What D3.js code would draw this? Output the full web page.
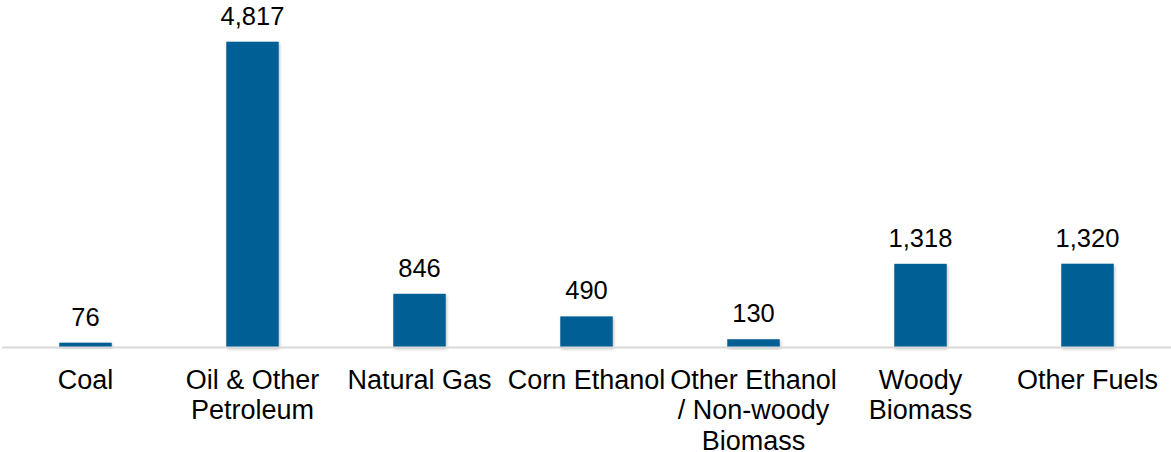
<!DOCTYPE html>
<html>
<head>
<meta charset="utf-8">
<script src="https://cdn.jsdelivr.net/npm/d3@7"></script>
<style>
  html, body { margin: 0; padding: 0; background: #ffffff; }
  svg { display: block; }
  text { font-family: "Liberation Sans", Arial, sans-serif; fill: #000; }
</style>
</head>
<body>
<svg id="chart" width="1171" height="452"></svg>
<script>
const categories = ["Coal", "Oil & Other\nPetroleum", "Natural Gas", "Corn Ethanol", "Other Ethanol\n/ Non-woody\nBiomass", "Woody\nBiomass", "Other Fuels"];
const values = [76, 4817, 846, 490, 130, 1318, 1320];
const valueLabels = ["76", "4,817", "846", "490", "130", "1,318", "1,320"];

const svg = d3.select("#chart");
const baseY = 347.5;
const x = d3.scaleBand().domain(categories).range([2, 1171]).paddingInner(0.686).paddingOuter(0.343);
const y = d3.scaleLinear().domain([0, 5000]).range([baseY, baseY - 5000 * 0.06348]);

const defs = svg.append("defs");
const f = defs.append("filter").attr("id", "sh").attr("x", "-20%").attr("y", "-20%").attr("width", "140%").attr("height", "140%");
f.append("feDropShadow").attr("dx", 1).attr("dy", 1.5).attr("stdDeviation", 1.5).attr("flood-color", "#000").attr("flood-opacity", 0.25);

// bars
svg.append("g").selectAll("rect").data(values).join("rect")
  .attr("x", (d, i) => x(categories[i]))
  .attr("y", d => y(d))
  .attr("width", x.bandwidth())
  .attr("height", d => baseY - y(d))
  .attr("fill", "#035e94")
  .attr("filter", "url(#sh)");

// axis
const axis = svg.append("g").attr("transform", `translate(0,${baseY})`)
  .call(d3.axisBottom(x).tickSize(0).tickPadding(0));
axis.select(".domain").attr("stroke", "#d9d9d9").attr("stroke-width", 2).attr("d", "M2,0H1171");
axis.selectAll(".tick text").each(function(d) {
  const t = d3.select(this);
  t.text(null).attr("y", 0).attr("dy", null)
    .attr("font-size", 27).attr("font-family", "'Liberation Sans', Arial, sans-serif").attr("fill", "#000");
  d.split("\n").forEach((line, k) => {
    t.append("tspan").attr("x", 0).attr("y", 41 + k * 30.8).text(line);
  });
});

// value labels
svg.append("g").selectAll("text").data(values).join("text")
  .attr("x", (d, i) => x(categories[i]) + x.bandwidth() / 2)
  .attr("y", d => y(d) - 17)
  .attr("text-anchor", "middle")
  .attr("font-size", 25.5)
  .text((d, i) => valueLabels[i]);
</script>
</body>
</html>
